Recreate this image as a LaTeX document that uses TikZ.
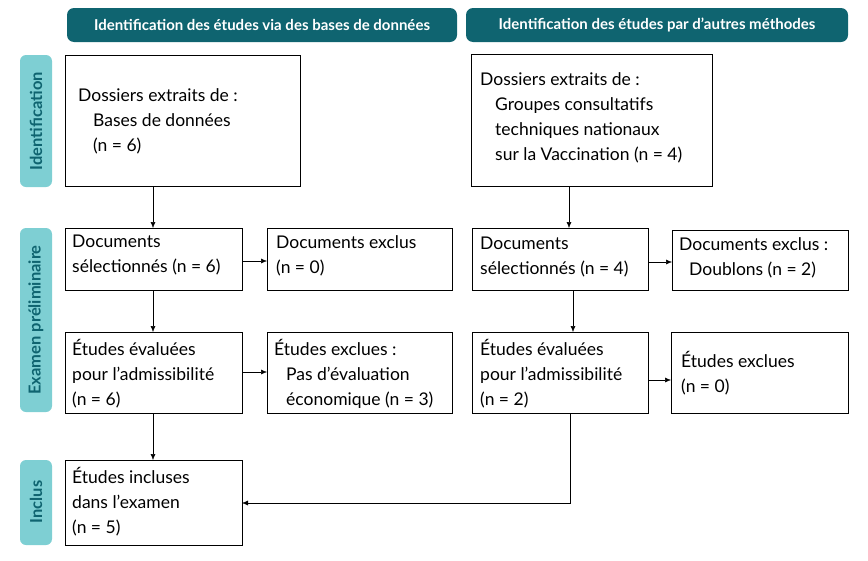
\documentclass[tikz,border=0pt]{standalone}
\usepackage{fontspec}
\setmainfont{Lato}
\usetikzlibrary{arrows.meta}
\definecolor{dteal}{HTML}{0F6470}
\definecolor{lteal}{HTML}{7ECFD3}
\begin{document}
\begin{tikzpicture}[x=1pt,y=-1pt,
  bx/.style={draw=black,line width=0.8pt,fill=white},
  hfont/.style={text=white,font=\fontsize{15}{17}\selectfont\bfseries},
  sfont/.style={rotate=90,text=dteal,font=\fontsize{16.5}{18}\selectfont\bfseries},
  txt/.style={anchor=north west,align=left,font=\fontsize{17.5}{25}\selectfont,inner sep=0pt},
  arr/.style={-{Latex[length=6pt,width=5pt]},line width=0.5pt}]
\useasboundingbox (0,0) rectangle (868,560);
% headers
\fill[dteal,rounded corners=7pt] (67,8) rectangle (457,42);
\node[hfont] (h1) at (262,25) {Identification des études via des bases de données};
\fill[dteal,rounded corners=7pt] (466,8) rectangle (848,42);
\node[hfont] (h2) at (657,25) {Identification des études par d’autres méthodes};
% side bars
\fill[lteal,rounded corners=6pt] (20,55) rectangle (52,187);
\node[sfont] (s1) at (36,121) {Identification};
\fill[lteal,rounded corners=6pt] (20,228) rectangle (52,412);
\node[sfont] (s2) at (36,320) {Examen préliminaire};
\fill[lteal,rounded corners=6pt] (20,460) rectangle (52,545);
\node[sfont] (s3) at (36,502) {Inclus};
% boxes
\draw[bx] (65,55) rectangle (300,186);
\node[txt] (ta) at (78,88) {Dossiers extraits de :\\\hspace*{15pt}Bases de données\\\hspace*{15pt}(n = 6)};
\draw[bx] (471,54) rectangle (712,186);
\node[txt] (tb) at (480,72) {Dossiers extraits de :\\\hspace*{15pt}Groupes consultatifs\\\hspace*{15pt}techniques nationaux\\\hspace*{15pt}sur la Vaccination (n = 4)};
\draw[bx] (65,228) rectangle (242,290);
\node[txt] (tc) at (72,235) {Documents\\sélectionnés (n = 6)};
\draw[bx] (267,228) rectangle (452,290);
\node[txt] (td) at (276,235) {Documents exclus\\(n = 0)};
\draw[bx] (472,228) rectangle (648,290);
\node[txt] (te) at (480,237) {Documents\\sélectionnés (n = 4)};
\draw[bx] (672,230) rectangle (848,290);
\node[txt] (tf) at (679,237) {Documents exclus :\\\hspace*{10pt}Doublons (n = 2)};
\draw[bx] (65,332) rectangle (242,413);
\node[txt] (tg) at (72,339) {Études évaluées\\pour l’admissibilité\\(n = 6)};
\draw[bx] (267,332) rectangle (452,413);
\node[txt] (th) at (274,339) {Études exclues :\\\hspace*{12pt}Pas d’évaluation\\\hspace*{12pt}économique (n = 3)};
\draw[bx] (472,332) rectangle (648,413);
\node[txt] (ti) at (480,339) {Études évaluées\\pour l’admissibilité\\(n = 2)};
\draw[bx] (671,332) rectangle (848,413);
\node[txt] (tj) at (681,351) {Études exclues\\(n = 0)};
\draw[bx] (65,460) rectangle (242,545);
\node[txt] (tk) at (72,467) {Études incluses\\dans l’examen\\(n = 5)};
% arrows
\draw[arr] (153,186) -- (153,228);
\draw[arr] (153,290) -- (153,332);
\draw[arr] (153,413) -- (153,460);
\draw[arr] (242,261) -- (267,261);
\draw[arr] (242,372) -- (267,372);
\draw[arr] (569,186) -- (569,228);
\draw[arr] (573,290) -- (573,332);
\draw[arr] (648,262) -- (672,262);
\draw[arr] (648,380) -- (671,380);
\draw[arr] (570,413) -- (570,503) -- (242,503);
\end{tikzpicture}
\end{document}
